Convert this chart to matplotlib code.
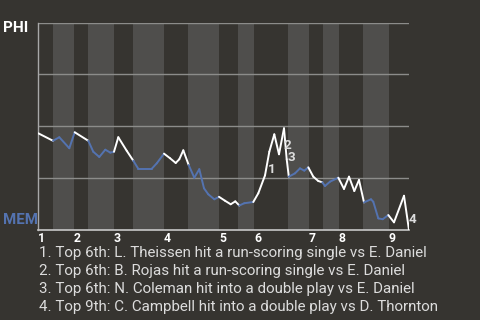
import matplotlib
matplotlib.use("Agg")
import matplotlib.pyplot as plt
from matplotlib.collections import LineCollection
import numpy as np

plt.rcParams['font.family'] = ['Roboto', 'DejaVu Sans']

# ---- data ----
# game progress (arbitrary units along the x axis) and PHI win probability
progress = [0, 14.7, 21.0, 31.0, 36.4, 50.0, 55.0, 61.0, 67.0, 72.0,
            75.7, 80.0, 88.4, 95.0, 100.0, 113.4, 118.4, 125.7, 131.7, 137.4,
            141.0, 145.0, 150.4, 156.0, 161.0, 165.7, 170.0, 176.0, 180.7, 186.7,
            192.4, 197.0, 201.0, 206.0, 215.0, 220.0, 226.7, 231.0, 236.0, 240.7,
            245.7, 248.4, 250.5, 256.7, 261.7, 266.0, 270.0, 275.0, 280.0, 284.0,
            286.7, 291.7, 300.0, 305.7, 310.7, 316.0, 320.7, 325.7, 332.7, 335.0,
            340.0, 344.4, 350.0, 355.7, 365.7, 370.7]
phi_wp = [0.466, 0.430, 0.447, 0.394, 0.471, 0.430, 0.377, 0.352, 0.387, 0.373,
          0.377, 0.447, 0.382, 0.334, 0.295, 0.295, 0.321, 0.368, 0.346, 0.323,
          0.341, 0.384, 0.313, 0.252, 0.293, 0.201, 0.172, 0.148, 0.160, 0.141,
          0.124, 0.138, 0.118, 0.129, 0.135, 0.177, 0.263, 0.377, 0.461, 0.365,
          0.490, 0.341, 0.257, 0.273, 0.297, 0.286, 0.302, 0.257, 0.236, 0.230,
          0.212, 0.233, 0.252, 0.198, 0.257, 0.188, 0.241, 0.133, 0.148, 0.136,
          0.056, 0.052, 0.072, 0.037, 0.165, 0.0]
# start of each half inning (top 1st, bottom 1st, ... top 9th), and game end
half_starts = [0, 14.7, 35.7, 49.7, 75.7, 94.7, 125.7, 149.7, 180.7, 200.0,
               215.7, 250.0, 270.7, 284.7, 300.7, 324.7, 350.7]
game_end = 370.7
inning_labels = ['1', '2', '3', '4', '5', '6', '7', '8', '9']
event_index = [36, 40, 41, 65]
event_labels = ['1', '2', '3', '4']
event_texts = [
    "1. Top 6th: L. Theissen hit a run-scoring single vs E. Daniel",
    "2. Top 6th: B. Rojas hit a run-scoring single vs E. Daniel",
    "3. Top 6th: N. Coleman hit into a double play vs E. Daniel",
    "4. Top 9th: C. Campbell hit into a double play vs D. Thornton",
]
home_team = 'MEM'
away_team = 'PHI'

# ---- style ----
BG = '#363430'
BAND = '#4f4e4c'
GRID = '#8c8c8a'
WHITE = '#ffffff'
BLUE = '#5473b0'
TEXT = '#dcdcdc'
label_offsets = [(4.8, 4.0), (2.4, -12.7), (3.6, 1.2), (2.4, 7.9)]

fig = plt.figure(figsize=(4.8, 3.2), dpi=100, facecolor=BG)
ax = fig.add_axes([38.3 / 480, 1 - 230 / 320, (409 - 38.3) / 480, (230 - 22.5) / 320])
ax.set_facecolor(BG)
ax.set_xlim(0, game_end)
ax.set_ylim(0, 1)

bounds = half_starts + [game_end]
for i in range(len(half_starts)):
    if i % 2 == 1:
        ax.axvspan(bounds[i], bounds[i + 1], color=BAND, lw=0, zorder=0)

for yv in [0.25, 0.5, 0.75, 1.0]:
    ax.axhline(yv, color=GRID, lw=1.0, zorder=1)

for s in ['top', 'right']:
    ax.spines[s].set_visible(False)
ax.spines['left'].set_color('#a8a8a8')
ax.spines['bottom'].set_color('#c8c8c8')
ax.spines['left'].set_linewidth(1.0)
ax.spines['bottom'].set_linewidth(1.2)

# line segments coloured by half inning
x = np.array(progress)
y = np.array(phi_wp)
segs = [[(x[i], y[i]), (x[i + 1], y[i + 1])] for i in range(len(x) - 1)]
cols = []
for i in range(len(x) - 1):
    mid = (x[i] + x[i + 1]) / 2
    k = np.searchsorted(half_starts, mid, side='right') - 1
    cols.append(WHITE if k % 2 == 0 else BLUE)
lc = LineCollection(segs, colors=cols, linewidths=1.4, capstyle='round',
                    joinstyle='round', zorder=3)
ax.add_collection(lc)

# inning tick labels
ax.set_yticks([])
ax.set_xticks(half_starts[::2])
ax.set_xticklabels(inning_labels, ha='left', color=WHITE, fontweight='bold', fontsize=8.8)
ax.tick_params(axis='x', length=0, pad=1.2)

# event markers
for idx, lab, off in zip(event_index, event_labels, label_offsets):
    ax.annotate(lab, (x[idx], y[idx]), xytext=off, textcoords='offset points',
                ha='center', va='center', color=TEXT, fontweight='bold', fontsize=9.6,
                annotation_clip=False, zorder=4)

fig.text(3 / 480, 1 - 28 / 320, away_team, color=WHITE, fontweight='bold',
         fontsize=11, ha='left', va='center')
fig.text(3 / 480, 1 - 219.5 / 320, home_team, color=BLUE, fontweight='bold',
         fontsize=10.8, ha='left', va='center')

for i, t in enumerate(event_texts):
    fig.text(39.3 / 480, 1 - (253.3 + 17.9 * i) / 320, t, color=TEXT,
             fontsize=10.9, ha='left', va='center')

fig.savefig('out.png', dpi=100, facecolor=BG)
